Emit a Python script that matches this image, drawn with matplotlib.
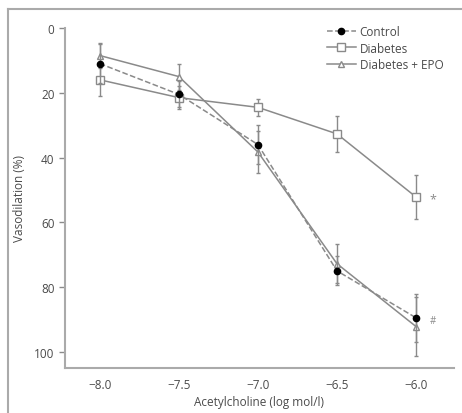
import matplotlib.pyplot as plt
from matplotlib.lines import Line2D

plt.rcParams['font.family'] = ['Open Sans', 'DejaVu Sans']

conc = [-8.0, -7.5, -7.0, -6.5, -6.0]
control = [11, 20.5, 36, 75, 89.5]
control_err = [6, 4, 6, 4.5, 7.5]
diabetes = [16, 21.5, 24.5, 32.7, 52.2]
diabetes_err = [5, 3.5, 2.7, 5.6, 6.8]
epo = [8.5, 15, 38.3, 72.8, 92.2]
epo_err = [4, 4, 6.5, 6, 9]
xticks = [-8.0, -7.5, -7.0, -6.5, -6.0]
yticks = [0, 20, 40, 60, 80, 100]

grey = '#8a8a8a'
txt = '#4a4a4a'

fig = plt.figure(figsize=(4.62, 4.14), dpi=100)
ax = fig.add_axes([65 / 462, 1 - 369 / 414, 389 / 462, 340 / 414])

ax.errorbar(conc, control, yerr=control_err, color=grey, ls='--', lw=1.1,
            marker='o', ms=4.5, mfc='black', mec='black', capsize=1.5,
            elinewidth=1, zorder=3)
ax.errorbar(conc, diabetes, yerr=diabetes_err, color=grey, ls='-', lw=1.1,
            marker='s', ms=6, mfc='white', mec=grey, capsize=1.5,
            elinewidth=1, zorder=2)
ax.errorbar(conc, epo, yerr=epo_err, color=grey, ls='-', lw=1.1,
            marker='^', ms=5, mfc='white', mec=grey, capsize=1.5,
            elinewidth=1, zorder=2)

ax.annotate('*', (conc[-1], diabetes[-1]), xytext=(12, -1), textcoords='offset points',
            ha='center', va='center', color=grey, fontsize=9)
ax.annotate('#', (conc[-1], control[-1]), xytext=(12, -2), textcoords='offset points',
            ha='center', va='center', color=grey, fontsize=7)

ax.set_xlim(-8.22, -5.76)
ax.set_ylim(105, 0)
ax.set_xticks(xticks)
ax.set_xticklabels([f'\u2212{abs(v):.1f}' for v in xticks])
ax.set_yticks(yticks)
ax.tick_params(axis='x', length=0, pad=7, labelsize=8.5, labelcolor=txt)
ax.tick_params(axis='y', length=4, width=1, color=grey, labelsize=8.5, labelcolor=txt)
for s in ['top', 'right']:
    ax.spines[s].set_visible(False)
for s in ['left', 'bottom']:
    ax.spines[s].set_color('#aaaaaa')
    ax.spines[s].set_linewidth(1.5)
ax.spines['left'].set_bounds(0, 105)

ax.set_xlabel('Acetylcholine (log mol/l)', fontsize=8.5, color=txt, labelpad=3)
ax.set_ylabel('Vasodilation (%)', fontsize=8.5, color=txt, labelpad=6)

handles = [
    Line2D([], [], color=grey, ls='--', lw=1.1, marker='o', ms=4.5, mfc='black', mec='black'),
    Line2D([], [], color=grey, ls='-', lw=1.1, marker='s', ms=6, mfc='white', mec=grey),
    Line2D([], [], color=grey, ls='-', lw=1.1, marker='^', ms=5, mfc='white', mec=grey),
]
ax.legend(handles, ['Control', 'Diabetes', 'Diabetes + EPO'], loc='upper right',
          bbox_to_anchor=(1.0, 1.04), frameon=False, fontsize=8.5,
          handlelength=2.5, handletextpad=0.3, labelspacing=0.3, labelcolor=txt)

# outer frame of the original figure
fig.add_artist(Line2D([8 / 462, 8 / 462], [0, 1 - 10 / 414], color='#aaaaaa', lw=1.5))
fig.add_artist(Line2D([8 / 462, 1], [1 - 10 / 414, 1 - 10 / 414], color='#aaaaaa', lw=1.5))

fig.savefig('out.png', dpi=100)
